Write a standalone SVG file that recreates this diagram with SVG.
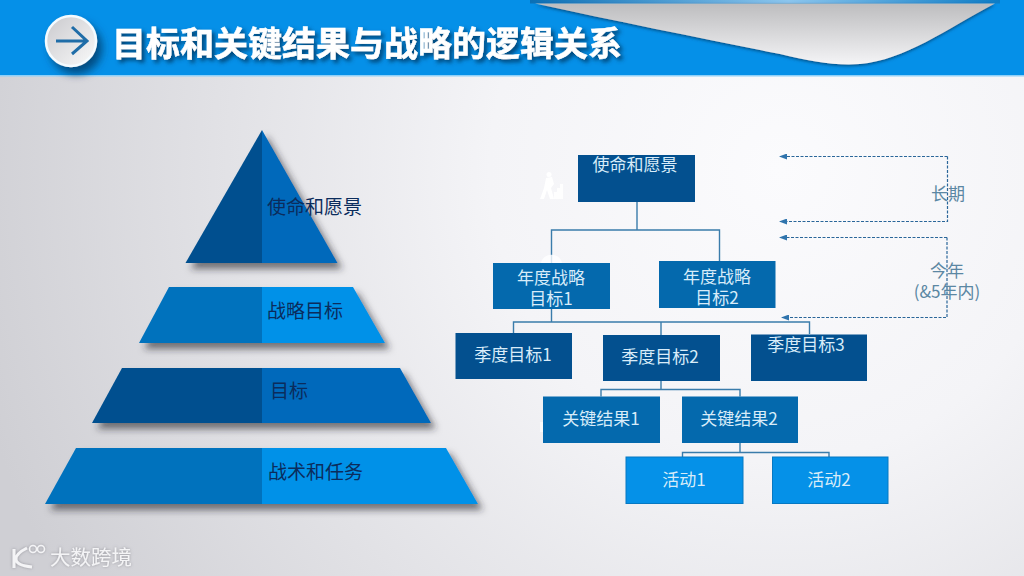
<svg xmlns="http://www.w3.org/2000/svg" width="1024" height="576" viewBox="0 0 1024 576">
<defs>
<radialGradient id="bg" gradientUnits="userSpaceOnUse" cx="780" cy="170" r="830">
<stop offset="0" stop-color="#fbfbfd"/><stop offset="0.35" stop-color="#f4f4f7"/><stop offset="1" stop-color="#cfcfd4"/>
</radialGradient>
<linearGradient id="swoosh" x1="0" y1="0" x2="0" y2="1"><stop offset="0" stop-color="#bdbdbf"/><stop offset="1" stop-color="#f4f4f6"/></linearGradient>
<linearGradient id="strip" x1="0" y1="0" x2="1" y2="0"><stop offset="0" stop-color="#0a6fb5"/><stop offset="0.55" stop-color="#8cc6ee"/><stop offset="1" stop-color="#0c7cc6"/></linearGradient>
<linearGradient id="disc" x1="0" y1="0" x2="1" y2="1"><stop offset="0" stop-color="#c9c9cd"/><stop offset="1" stop-color="#fafafa"/></linearGradient>
<filter id="sh" x="-15%" y="-15%" width="130%" height="140%"><feDropShadow dx="5" dy="6" stdDeviation="3.5" flood-color="#26282e" flood-opacity="0.6"/></filter>
<filter id="th" x="-5%" y="-20%" width="110%" height="150%"><feDropShadow dx="3" dy="3" stdDeviation="2" flood-color="#063a66" flood-opacity="0.9"/></filter>
<filter id="ss" x="-5%" y="-20%" width="110%" height="150%"><feDropShadow dx="0" dy="1.500" stdDeviation="1.500" flood-color="#063a66" flood-opacity="0.75"/></filter>
<filter id="cs" x="-40%" y="-40%" width="190%" height="190%"><feDropShadow dx="5" dy="7" stdDeviation="4" flood-color="#06365f" flood-opacity="0.75"/></filter>
<filter id="wm" x="-5%" y="-20%" width="110%" height="140%"><feDropShadow dx="0" dy="0" stdDeviation="1.400" flood-color="#8e8e94" flood-opacity="0.9"/></filter>
<marker id="ah" markerUnits="userSpaceOnUse" markerWidth="8" markerHeight="6" refX="7" refY="3" orient="auto"><path d="M0 0L8 3L0 6Z" fill="#2f74ad"/></marker>
</defs>
<style>
text{font-family:"Noto Sans CJK SC","Liberation Sans",sans-serif}
.navy{fill:#03508f}.mid{fill:#0469ad}.bright{fill:#0591e8}
.bt{fill:#d8ecf9;font-size:17px;text-anchor:middle}
.pt{fill:#0b2c5c;font-size:19px}
.side{fill:#5b87a3;font-size:17px;text-anchor:middle}
.conn{fill:none;stroke:#3a7cab;stroke-width:1.4}
.dash{fill:none;stroke:#2a6699;stroke-width:1.200;stroke-dasharray:3 1.500}
</style>
<rect width="1024" height="576" fill="url(#bg)"/>
<g id="header">
<rect width="1024" height="75" fill="#0590e8"/>
<rect y="75" width="1024" height="1.500" fill="#8fd0f8"/>
<rect x="530" width="470" height="3.500" fill="url(#strip)"/>
<path d="M535 3.500C620 22 700 38 780 54C810 61 835 66 860 64C905 60 945 30 995 3.500Z" fill="url(#swoosh)" filter="url(#ss)"/>
<circle cx="71" cy="41" r="25" fill="url(#disc)" stroke="#f4fbff" stroke-width="2.500" filter="url(#cs)"/>
<path d="M56 41H86M72 27L87 41L72 54" fill="none" stroke="#1f6da8" stroke-width="3"/>
<text x="112" y="56" font-size="34" font-weight="700" fill="#fff" stroke="#fff" stroke-width="0.500" filter="url(#th)">目标和关键结果与战略的逻辑关系</text>
</g>
<g id="pyramid-mission" filter="url(#sh)"><path d="M262 130L185.500 263H262Z" class="navy"/><path d="M262 130L337.500 263H262Z" fill="#0469bb"/></g>
<g id="pyramid-strategy" filter="url(#sh)"><path d="M169 287L139 343H262V287Z" fill="#0672bd"/><path d="M353 287L385 343H262V287Z" class="bright"/></g>
<g id="pyramid-goal" filter="url(#sh)"><path d="M122 368L92 423H262V368Z" class="navy"/><path d="M400 368L431 423H262V368Z" fill="#0469bb"/></g>
<g id="pyramid-tactics" filter="url(#sh)"><path d="M76 448L45 504H262V448Z" fill="#0672bd"/><path d="M446 448L478 504H262V448Z" class="bright"/></g>
<g id="pyramid-labels">
<text class="pt" x="267" y="214">使命和愿景</text>
<text class="pt" x="267" y="318">战略目标</text>
<text class="pt" x="270" y="398">目标</text>
<text class="pt" x="268" y="479">战术和任务</text>
</g>
<g id="connectors">
<path class="conn" d="M637 202V230M551.500 263V230H719.500V261"/>
<path class="conn" d="M551.500 309V322M513.500 333V322H809.500V334M661 322V335"/>
<path class="conn" d="M661 381V389.500M601 396.500V389.500H740V396.500"/>
<path class="conn" d="M740 443V452.500M682.500 457V452.500H829V457"/>
<path class="dash" d="M947.500 156.500H780" marker-end="url(#ah)"/>
<path class="dash" d="M947.500 156.500V221.500H780" marker-end="url(#ah)"/>
<path class="dash" d="M947 237.500H780" marker-end="url(#ah)"/>
<path class="dash" d="M947 237.500V317.500H782" marker-end="url(#ah)"/>
</g>
<g id="icon-marks" fill="#fff">
<circle cx="549" cy="174.500" r="2.500"/><path d="M546 178L552 177L554 184L551 188L554 199H550L547 190L544 199H540L544 188Z"/>
<path d="M554 199V192H557V188H560V184H563V199Z" opacity="0.85"/>
<path d="M541 263C543 252 560 252 562 263Z" opacity="0.8"/>
<rect x="540" y="422" width="3" height="10" opacity="0.7"/>
</g>
<g id="n-mission"><rect class="navy" x="578" y="155" width="117" height="47"/><text class="bt" x="635" y="171">使命和愿景</text></g>
<g id="n-year1"><rect class="mid" x="493" y="263" width="117" height="46"/><text class="bt" y="284"><tspan x="551">年度战略</tspan><tspan x="551" dy="21">目标1</tspan></text></g>
<g id="n-year2"><rect class="mid" x="659" y="261" width="116.500" height="47"/><text class="bt" y="283"><tspan x="717">年度战略</tspan><tspan x="717" dy="21">目标2</tspan></text></g>
<g id="n-q1"><rect class="navy" x="455.500" y="333" width="116.500" height="46"/><text class="bt" x="513" y="361">季度目标1</text></g>
<g id="n-q2"><rect class="navy" x="603" y="335" width="117" height="46"/><text class="bt" x="660" y="363">季度目标2</text></g>
<g id="n-q3"><rect class="navy" x="751" y="334.500" width="116" height="46.500"/><text class="bt" x="806" y="351">季度目标3</text></g>
<g id="n-kr1"><rect class="mid" x="543" y="396.500" width="117" height="46.500"/><text class="bt" x="601" y="425">关键结果1</text></g>
<g id="n-kr2"><rect class="mid" x="682" y="396.500" width="116" height="46.500"/><text class="bt" x="739" y="425">关键结果2</text></g>
<g id="n-a1"><rect class="bright" x="626" y="457" width="117" height="46.500" stroke="#0678c2"/><text class="bt" x="684" y="486">活动1</text></g>
<g id="n-a2"><rect class="bright" x="772.500" y="457" width="115.500" height="46.500" stroke="#0678c2"/><text class="bt" x="829" y="486">活动2</text></g>
<g id="side-labels">
<text class="side" x="948" y="200">长期</text>
<text class="side" y="277"><tspan x="947">今年</tspan><tspan x="947" dy="21">(&amp;5年内)</tspan></text>
</g>
<g id="watermark" filter="url(#wm)">
<path d="M14 549V568M27 548C19 552 16 556 16 559C16 563 22 566 32 567" fill="none" stroke="#f4f4f6" stroke-width="3"/>
<circle cx="33" cy="549" r="3.500" fill="none" stroke="#f4f4f6" stroke-width="1.500"/><circle cx="41" cy="549" r="3.500" fill="none" stroke="#f4f4f6" stroke-width="1.500"/>
<text x="50" y="565" font-size="20.500" fill="#f4f4f6">大数跨境</text>
</g>
</svg>
